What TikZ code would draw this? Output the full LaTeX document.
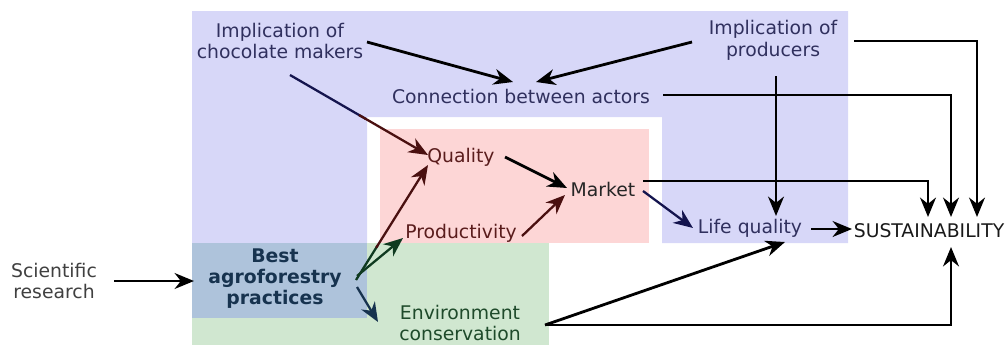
\documentclass[tikz,border=0pt]{standalone}
\usepackage{fontspec}
\setmainfont{DejaVu Sans}
\usetikzlibrary{arrows.meta,calc}
\definecolor{bgblue}{HTML}{D7D7F8}
\definecolor{bgpink}{HTML}{FDD6D6}
\definecolor{bggreen}{HTML}{D0E7D0}
\definecolor{bgbest}{HTML}{AEC3DB}
\definecolor{txblue}{HTML}{30305E}
\definecolor{txred}{HTML}{5A1C1C}
\definecolor{txgreen}{HTML}{1E4A2A}
\definecolor{txbest}{HTML}{17334F}
\definecolor{lnnavy}{HTML}{14144E}
\definecolor{lnred}{HTML}{4A1010}
\definecolor{lngreen}{HTML}{0F3A20}
\tikzset{
  lbl/.style={inner sep=1pt, align=center, font=\fontsize{10.7}{12.5}\selectfont},
  arr/.style={line width=1.6pt, -{Stealth[length=11pt,width=9pt,inset=3.5pt]}},
  carr/.style={line width=1.3pt, -{Stealth[length=11pt,width=9pt,inset=3.5pt]}},
  cline/.style={line width=1.3pt},
}
\begin{document}
\begin{tikzpicture}[x=0.02cm,y=-0.02cm]
\useasboundingbox (0,0) rectangle (1006,345);
% backgrounds
\fill[bgblue] (192,11) -- (848,11) -- (848,243) -- (662,243) -- (662,117) -- (367,117) -- (367,243) -- (192,243) -- cycle;
\fill[bgpink] (380,129) rectangle (649,243);
\fill[bggreen] (192,243) rectangle (549,345);
\fill[bgbest] (192,243) rectangle (367,318);
% nodes
\node[lbl, text=txblue] (choc) at (280,41) {Implication of\\chocolate makers};
\node[lbl, text=txblue] (prod) at (773,40) {Implication of\\producers};
\node[lbl, text=txblue] (conn) at (521,96) {Connection between actors};
\node[lbl, text=txred] (qual) at (461,157) {Quality};
\node[lbl, text=txred] (pdty) at (461,233) {Productivity};
\node[lbl, text=black!85] (mkt) at (603,189) {Market};
\node[lbl, text=txblue] (life) at (750,228) {Life quality};
\node[lbl, text=black!90] (sust) at (929,231) {SUSTAINABILITY};
\node[lbl, text=txbest, font=\fontsize{10.7}{12}\selectfont\bfseries] (best) at (275,279) {Best\\agroforestry\\practices};
\node[lbl, text=black!75] (sci) at (54,281) {Scientific\\research};
\node[lbl, text=txgreen] (env) at (460,323) {Environment\\conservation};
% black arrows
\draw[arr] ($(choc)+(87,1)$) -- ($(conn)+(-8,-14)$);
\draw[arr] ($(prod)+(-81,2)$) -- ($(conn)+(15,-14)$);
\draw[arr] ($(sci)+(60,0)$) -- ($(best)+(-81,2)$);
\draw[arr] ($(qual)+(44,0)$) -- ($(mkt)+(-36,-1)$);
\draw[arr] ($(mkt)+(40,-8)$) -| ($(sust)+(-1,-14)$);
\draw[arr] ($(conn)+(142,-1)$) -| ($(sust)+(22,-14)$);
\draw[arr] ($(prod)+(81,1)$) -| ($(sust)+(48,-14)$);
\draw[arr] ($(prod)+(3,36)$) -- ($(life)+(26,-12)$);
\draw[arr] ($(life)+(61,1)$) -- ($(sust)+(-77,-2)$);
\draw[arr] ($(env)+(85,2)$) -- ($(life)+(35,14)$);
\draw[arr] ($(env)+(85,2)$) -| ($(sust)+(22,16)$);
% coloured arrows
\coordinate (cqs) at ($(choc)+(10,34)$);
\coordinate (cqe) at ($(qual)+(-33,-2)$);
\coordinate (bqs) at ($(best)+(81,1)$);
\coordinate (bqe) at ($(qual)+(-33,8)$);
\draw[cline, lnnavy] (cqs) -- ($(cqs)!0.55!(cqe)$);
\draw[carr, lnred] ($(cqs)!0.5!(cqe)$) -- (cqe);
\draw[cline, lngreen] (bqs) -- ($(bqs)!0.3!(bqe)$);
\draw[carr, lnred] ($(bqs)!0.28!(bqe)$) -- (bqe);
\draw[carr, lngreen] ($(best)+(82,-3)$) -- ($(pdty)+(-58,5)$);
\draw[carr, txbest] ($(best)+(82,8)$) -- ($(env)+(-82,-1)$);
\draw[carr, lnred] ($(pdty)+(61,3)$) -- ($(mkt)+(-38,6)$);
\draw[carr, lnnavy] ($(mkt)+(40,2)$) -- ($(life)+(-57,0)$);
\end{tikzpicture}
\end{document}
